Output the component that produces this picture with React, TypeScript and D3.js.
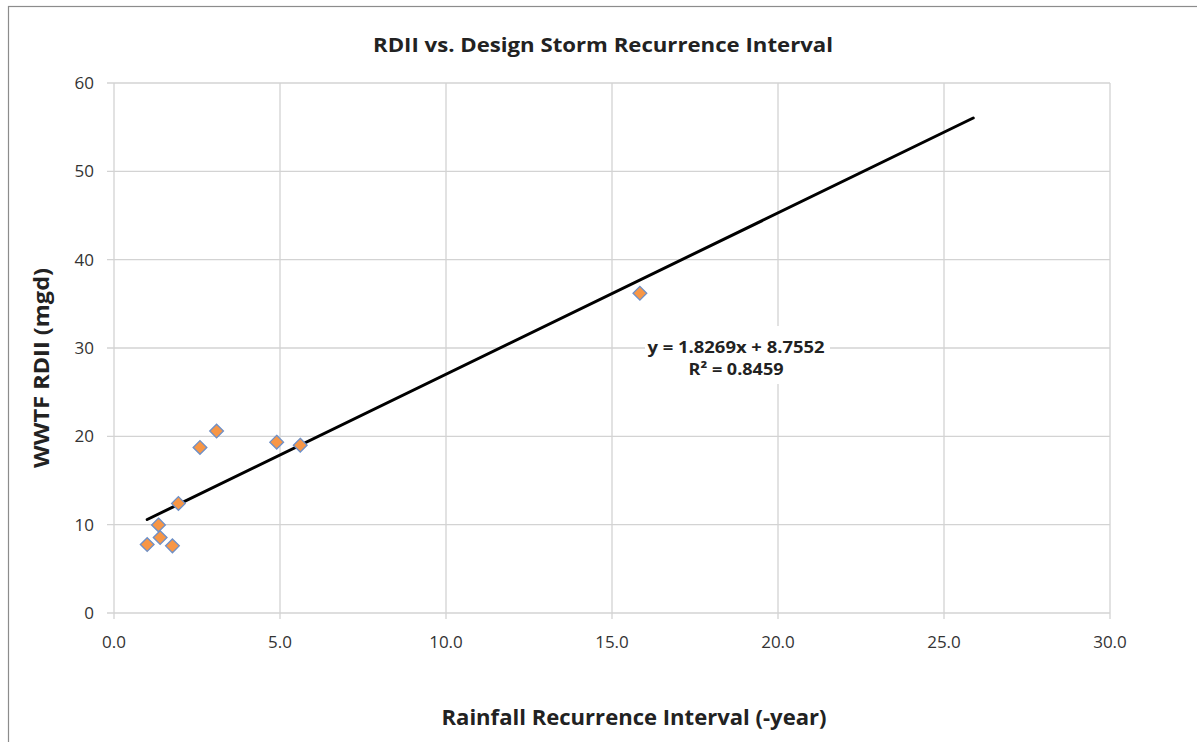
import { useEffect, useRef } from 'react';
import * as d3 from 'd3';

// storm recurrence interval (years) vs. WWTF RDII (mgd)
const intervals = [1.0, 1.39, 1.76, 1.34, 1.94, 2.59, 3.09, 4.9, 5.61, 15.84];
const rdii = [7.75, 8.54, 7.6, 9.97, 12.4, 18.74, 20.6, 19.34, 19.0, 36.2];
const xTicks = [0, 5, 10, 15, 20, 25, 30];
const yTicks = [0, 10, 20, 30, 40, 50, 60];
const slope = 1.8269;
const intercept = 8.7552;
const trendEnd = 25.88;
const eqLines = ['y = 1.8269x + 8.7552', 'R² = 0.8459'];
const eqWidths = [177, 95];

const FONT = '"Open Sans", Lato, sans-serif';

const App = () => {
  const svgRef = useRef(null);

  useEffect(() => {
    const svg = d3.select(svgRef.current);
    svg.selectAll('*').remove();

    const width = 1197;
    const height = 742;
    svg.attr('width', width).attr('height', height);

    // chart frame, runs off the right/bottom edge like the screenshot
    svg.append('rect')
      .attr('x', 8.5).attr('y', 6.5)
      .attr('width', 1200).attr('height', 760)
      .attr('fill', '#fff').attr('stroke', '#8c8c8c').attr('stroke-width', 1.2);

    const x = d3.scaleLinear().domain([0, 30]).range([114, 1110]);
    const y = d3.scaleLinear().domain([0, 60]).range([613, 83]);

    // grid
    svg.append('g').selectAll('line.h')
      .data(yTicks).enter().append('line')
      .attr('x1', 107).attr('x2', x(30))
      .attr('y1', d => y(d)).attr('y2', d => y(d))
      .attr('stroke', '#d3d3d3').attr('stroke-width', 1.3);
    svg.append('g').selectAll('line.v')
      .data(xTicks).enter().append('line')
      .attr('x1', d => x(d)).attr('x2', d => x(d))
      .attr('y1', y(60)).attr('y2', y(0) + 6)
      .attr('stroke', '#d3d3d3').attr('stroke-width', 1.3);

    // tick labels
    svg.append('g').selectAll('text')
      .data(yTicks).enter().append('text')
      .attr('x', 94).attr('y', d => y(d))
      .attr('dy', '0.36em')
      .attr('text-anchor', 'end')
      .attr('font-family', FONT).attr('font-size', 17).attr('fill', '#333')
      .text(d => d);
    svg.append('g').selectAll('text')
      .data(xTicks).enter().append('text')
      .attr('x', d => x(d)).attr('y', 648)
      .attr('text-anchor', 'middle')
      .attr('font-family', FONT).attr('font-size', 17).attr('fill', '#333')
      .text(d => d3.format('.1f')(d));

    // trendline
    svg.append('line')
      .attr('x1', x(d3.min(intervals))).attr('y1', y(slope * d3.min(intervals) + intercept))
      .attr('x2', x(trendEnd)).attr('y2', y(slope * trendEnd + intercept))
      .attr('stroke', '#000').attr('stroke-width', 3).attr('stroke-linecap', 'round');

    // points
    const diamond = d3.symbol().type(d3.symbolDiamond2).size(120);
    svg.append('g').selectAll('path')
      .data(intervals.map((v, i) => [v, rdii[i]]))
      .enter().append('path')
      .attr('d', diamond)
      .attr('transform', d => `translate(${x(d[0])},${y(d[1])})`)
      .attr('fill', '#f79646').attr('stroke', '#6d8fc7').attr('stroke-width', 1.3);

    // equation label with white box
    svg.append('rect')
      .attr('x', 645).attr('y', 326).attr('width', 185).attr('height', 58)
      .attr('fill', '#fff');
    svg.append('g').selectAll('text')
      .data(eqLines).enter().append('text')
      .attr('x', 736).attr('y', (d, i) => 353 + i * 22)
      .attr('text-anchor', 'middle')
      .attr('textLength', (d, i) => eqWidths[i]).attr('lengthAdjust', 'spacingAndGlyphs')
      .attr('font-family', FONT).attr('font-size', 16).attr('font-weight', 'bold')
      .attr('fill', '#222')
      .text(d => d);

    // titles
    svg.append('text')
      .attr('x', 603).attr('y', 52)
      .attr('text-anchor', 'middle')
      .attr('textLength', 460).attr('lengthAdjust', 'spacingAndGlyphs')
      .attr('font-family', FONT).attr('font-size', 20).attr('font-weight', 'bold')
      .attr('fill', '#222')
      .text('RDII vs. Design Storm Recurrence Interval');
    svg.append('text')
      .attr('x', 634).attr('y', 725)
      .attr('text-anchor', 'middle')
      .attr('textLength', 385).attr('lengthAdjust', 'spacingAndGlyphs')
      .attr('font-family', FONT).attr('font-size', 21).attr('font-weight', 'bold')
      .attr('fill', '#222')
      .text('Rainfall Recurrence Interval (-year)');
    svg.append('text')
      .attr('transform', 'translate(49,368) rotate(-90)')
      .attr('text-anchor', 'middle')
      .attr('textLength', 200).attr('lengthAdjust', 'spacingAndGlyphs')
      .attr('font-family', FONT).attr('font-size', 21).attr('font-weight', 'bold')
      .attr('fill', '#222')
      .text('WWTF RDII (mgd)');
  }, []);

  return <svg ref={svgRef} style={{ display: 'block', position: 'absolute', left: 0, top: 0 }}></svg>;
};

export default App;
